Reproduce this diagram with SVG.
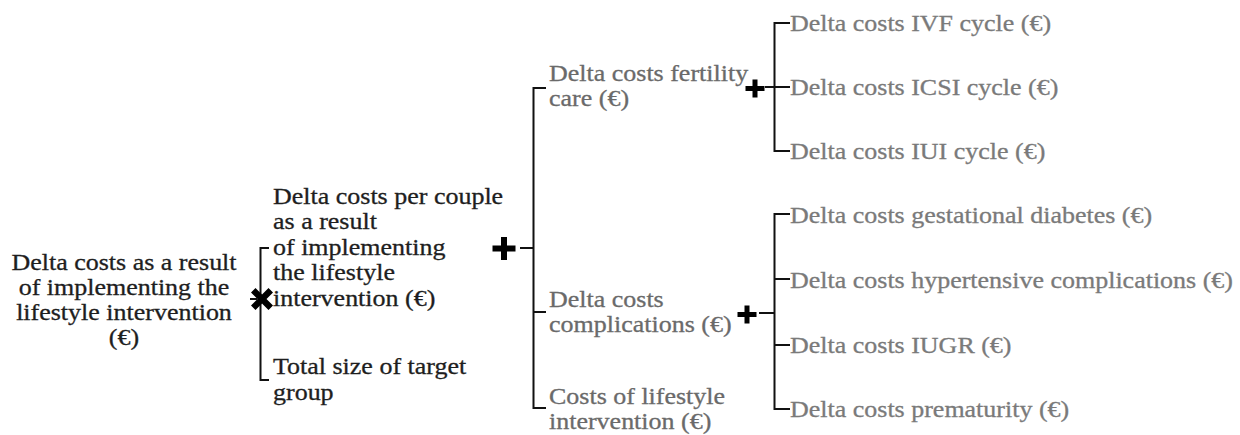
<svg xmlns="http://www.w3.org/2000/svg" width="1240" height="435" viewBox="0 0 1240 435">
<style>
.t{font-family:'Liberation Serif','Times New Roman',serif;font-size:23px;stroke-width:0.3}
.k{fill:#1e1e1e;stroke:#1e1e1e}
.g1{fill:#6a6a6a;stroke:#6a6a6a}
.g2{fill:#7a7a7a;stroke:#7a7a7a}
.ln{fill:none;stroke:#111;stroke-width:2}
.op{fill:#000}
</style>
<rect width="1240" height="435" fill="#fff"/>
<g id="connectors">
<path class="ln" d="M250,299 H257"/>
<path class="ln" d="M269,248 H260.5 V380 H269"/>
<path class="ln" d="M520,248 H533"/>
<path class="ln" d="M546,88 H533.5 V408 H546"/>
<path class="ln" d="M533,312 H546"/>
<path class="ln" d="M765,87 H774"/>
<path class="ln" d="M790,23 H774.5 V151 H790"/>
<path class="ln" d="M774,87 H790"/>
<path class="ln" d="M759,313 H774"/>
<path class="ln" d="M790,214 H774.5 V409 H790"/>
<path class="ln" d="M774,279 H790"/>
<path class="ln" d="M774,345 H790"/>
</g>
<g id="operators">
<path class="op" d="M-11,-6.5 L-6.5,-11 L0,-4.5 L6.5,-11 L11,-6.5 L4.5,0 L11,6.5 L6.5,11 L0,4.5 L-6.5,11 L-11,6.5 L-4.5,0 Z" transform="translate(262,299)"/>
<path class="op" d="M501,237 H507 V245.5 H515.5 V251.5 H507 V260 H501 V251.5 H492.5 V245.5 H501 Z"/>
<path class="op" d="M752.5,79.5 H757.5 V86 H764.5 V91 H757.5 V97.5 H752.5 V91 H745.5 V86 H752.5 Z"/>
<path class="op" d="M744.5,305.5 H749.5 V312 H756.5 V317 H749.5 V323.5 H744.5 V317 H737.5 V312 H744.5 Z"/>
</g>
<g id="node-root">
<text class="t k" text-anchor="middle" transform="translate(124,270) scale(1.13,1)"><tspan x="0" y="0">Delta costs as a result</tspan><tspan x="0" y="25">of implementing the</tspan><tspan x="0" y="50">lifestyle intervention</tspan><tspan x="0" y="75">(€)</tspan></text>
</g>
<g id="node-per-couple">
<text class="t k" transform="translate(273,204) scale(1.13,1)"><tspan x="0" y="0">Delta costs per couple</tspan><tspan x="0" y="25.5">as a result</tspan><tspan x="0" y="51">of implementing</tspan><tspan x="0" y="76.5">the lifestyle</tspan><tspan x="0" y="102">intervention (€)</tspan></text>
</g>
<g id="node-target-group">
<text class="t k" transform="translate(273,374) scale(1.13,1)"><tspan x="0" y="0">Total size of target</tspan><tspan x="0" y="26">group</tspan></text>
</g>
<g id="node-fertility">
<text class="t g1" transform="translate(549,81) scale(1.13,1)"><tspan x="0" y="0">Delta costs fertility</tspan><tspan x="0" y="25">care (€)</tspan></text>
</g>
<g id="node-complications">
<text class="t g1" transform="translate(549,306.5) scale(1.13,1)"><tspan x="0" y="0">Delta costs</tspan><tspan x="0" y="25.5">complications (€)</tspan></text>
</g>
<g id="node-lifestyle-costs">
<text class="t g1" transform="translate(549,404) scale(1.13,1)"><tspan x="0" y="0">Costs of lifestyle</tspan><tspan x="0" y="25">intervention (€)</tspan></text>
</g>
<g id="node-ivf"><text class="t g2" transform="translate(790,31) scale(1.13,1)">Delta costs IVF cycle (€)</text></g>
<g id="node-icsi"><text class="t g2" transform="translate(790,95) scale(1.13,1)">Delta costs ICSI cycle (€)</text></g>
<g id="node-iui"><text class="t g2" transform="translate(790,159) scale(1.13,1)">Delta costs IUI cycle (€)</text></g>
<g id="node-gestational"><text class="t g2" transform="translate(790,223) scale(1.13,1)">Delta costs gestational diabetes (€)</text></g>
<g id="node-hypertensive"><text class="t g2" transform="translate(790,288) scale(1.13,1)">Delta costs hypertensive complications (€)</text></g>
<g id="node-iugr"><text class="t g2" transform="translate(790,353) scale(1.13,1)">Delta costs IUGR (€)</text></g>
<g id="node-prematurity"><text class="t g2" transform="translate(790,417) scale(1.13,1)">Delta costs prematurity (€)</text></g>
</svg>
